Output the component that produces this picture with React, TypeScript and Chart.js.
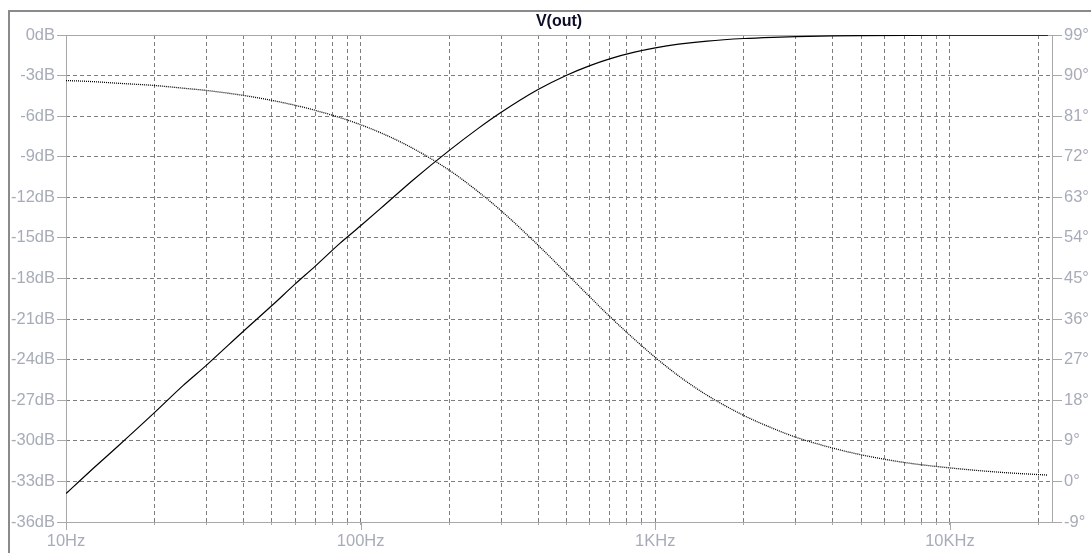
import { useEffect, useRef } from 'react';
import { Chart, registerables } from 'chart.js';
Chart.register(...registerables);

const FONT = '"Liberation Sans", Arial, sans-serif';

const title = 'V(out)';
const freqs = [10, 12, 15, 20, 25, 30, 40, 50, 60, 70, 85, 100, 120, 150, 200, 250, 300, 400, 500, 600, 700, 850, 1000, 1200, 1500, 2000, 2500, 3000, 4000, 5000, 7000, 10000, 15000, 21500];
const magnitudeDb = [-33.9, -32.3, -30.4, -27.9, -25.9, -24.4, -21.9, -20.0, -18.4, -17.1, -15.4, -14.1, -12.6, -10.75, -8.53, -6.92, -5.71, -4.03, -2.97, -2.26, -1.76, -1.27, -0.95, -0.68, -0.45, -0.26, -0.17, -0.12, -0.066, -0.042, -0.022, -0.011, -0.005, -0.002];
const phaseDeg = [88.9, 88.7, 88.3, 87.8, 87.2, 86.7, 85.6, 84.5, 83.4, 82.3, 80.7, 79.1, 77.0, 73.9, 69.0, 64.3, 60.0, 52.4, 46.1, 40.9, 36.6, 31.5, 27.5, 23.4, 19.1, 14.6, 11.8, 9.8, 7.4, 5.9, 4.2, 3.0, 2.0, 1.4];
const xTicks = [10, 20, 30, 40, 50, 60, 70, 80, 90, 100, 200, 300, 400, 500, 600, 700, 800, 900, 1000, 2000, 3000, 4000, 5000, 6000, 7000, 8000, 9000, 10000, 20000];
const decadeLabels: Record<number, string> = { 10: '10Hz', 100: '100Hz', 1000: '1KHz', 10000: '10KHz' };

const LABEL_COLOR = '#a7acb8';
const GRID_COLOR = '#7d7d7d';
const FRAME_COLOR = '#a8a8a8';

export default function App() {
  const ref = useRef<HTMLCanvasElement>(null);
  useEffect(() => {
    if (!ref.current) return;
    const decorations = {
      id: 'decorations',
      beforeDraw(chart: any) {
        const ctx = chart.ctx;
        ctx.save();
        ctx.fillStyle = '#ffffff';
        ctx.fillRect(0, 0, chart.width, chart.height);
        ctx.fillStyle = '#8a8a8a';
        ctx.fillRect(8, 10, chart.width - 8, 2);
        ctx.fillRect(8, 10, 2, chart.height - 10);
        ctx.restore();
      },
      beforeDatasetsDraw(chart: any) {
        const ctx = chart.ctx;
        const a = chart.chartArea;
        ctx.save();
        ctx.strokeStyle = FRAME_COLOR;
        ctx.lineWidth = 1;
        ctx.strokeRect(Math.round(a.left) + 0.5, Math.round(a.top) + 0.5, Math.round(a.right - a.left), Math.round(a.bottom - a.top));
        const xs = chart.scales.x;
        ctx.beginPath();
        Object.keys(decadeLabels).forEach((k) => {
          const px = Math.round(xs.getPixelForValue(Number(k))) + 0.5;
          ctx.moveTo(px, a.bottom);
          ctx.lineTo(px, a.bottom + 8);
        });
        ctx.stroke();
        ctx.fillStyle = '#0c0c28';
        ctx.font = 'bold 16px ' + FONT;
        ctx.textAlign = 'center';
        ctx.textBaseline = 'middle';
        ctx.fillText(title, (a.left + a.right) / 2, 22);
        ctx.restore();
      },
    };
    const chart = new Chart(ref.current, {
      type: 'line',
      data: {
        datasets: [
          {
            label: 'Magnitude',
            data: freqs.map((f, i) => ({ x: f, y: magnitudeDb[i] })),
            yAxisID: 'y',
            borderColor: '#000000',
            borderWidth: 1.2,
            pointRadius: 0,
            cubicInterpolationMode: 'monotone',
          },
          {
            label: 'Phase',
            data: freqs.map((f, i) => ({ x: f, y: phaseDeg[i] })),
            yAxisID: 'y2',
            borderColor: '#000000',
            borderWidth: 1.3,
            borderDash: [1, 1],
            pointRadius: 0,
            cubicInterpolationMode: 'monotone',
          },
        ],
      },
      options: {
        animation: false,
        responsive: false,
        layout: { padding: { top: 35, left: 0, right: 0, bottom: 0 } },
        plugins: { legend: { display: false }, tooltip: { enabled: false }, title: { display: false } },
        scales: {
          x: {
            type: 'logarithmic',
            min: 10,
            max: 22200,
            afterBuildTicks: (s: any) => {
              s.ticks = xTicks.map((v) => ({ value: v }));
            },
            afterFit: (s: any) => {
              s.height = 31;
            },
            ticks: {
              autoSkip: false,
              maxRotation: 0,
              color: LABEL_COLOR,
              font: { family: FONT, size: 16.5 },
              padding: 7,
              callback: (v: any) => decadeLabels[Number(v)] || '',
            },
            grid: { color: GRID_COLOR, tickColor: FRAME_COLOR, tickLength: 3, lineWidth: 1 },
            border: { display: false, dash: [4, 3] },
          },
          y: {
            type: 'linear',
            position: 'left',
            min: -36,
            max: 0,
            afterFit: (s: any) => {
              s.width = 66;
            },
            ticks: {
              stepSize: 3,
              color: LABEL_COLOR,
              font: { family: FONT, size: 16.5 },
              padding: 2,
              callback: (v: any) => v + 'dB',
            },
            grid: { color: GRID_COLOR, tickColor: FRAME_COLOR, tickLength: 9 },
            border: { display: false, dash: [4, 3] },
          },
          y2: {
            type: 'linear',
            position: 'right',
            min: -9,
            max: 99,
            afterFit: (s: any) => {
              s.width = 39;
            },
            ticks: {
              stepSize: 9,
              color: LABEL_COLOR,
              font: { family: FONT, size: 16.5 },
              padding: 2,
              callback: (v: any) => v + '°',
            },
            grid: { drawOnChartArea: false, tickColor: FRAME_COLOR, tickLength: 10 },
            border: { display: false },
          },
        },
      },
      plugins: [decorations],
    } as any);
    return () => chart.destroy();
  }, []);
  return (
    <div style={{ position: 'fixed', left: 0, top: 0, width: 1091, height: 553, background: '#fff' }}>
      <canvas ref={ref} width={1091} height={553} style={{ display: 'block' }} />
    </div>
  );
}
